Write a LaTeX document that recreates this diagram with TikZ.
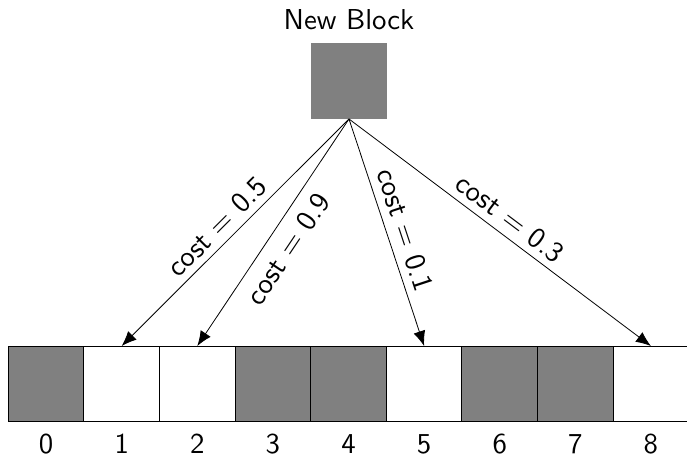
\documentclass[tikz,border=0pt]{standalone}
\usetikzlibrary{arrows.meta}
\begin{document}
\begin{tikzpicture}[x=1pt,y=-1pt,
  cell/.style={draw=black, line width=1pt, minimum size=75.6pt, inner sep=0pt, outer sep=0pt, anchor=north west},
  txt/.style={font=\sffamily\fontsize{10}{12}\selectfont, inner sep=0pt, scale=2.88},
  arr/.style={-{Latex[length=15pt,width=12pt]}, line width=0.8pt}]
\useasboundingbox (0,0) rectangle (687,454);
\foreach \i/\f in {0/gray,1/white,2/white,3/gray,4/gray,5/white,6/gray,7/gray,8/white}{
  \node[cell, fill=\f] (c\i) at ({8.3+75.6*\i},346) {};
  \node[txt, anchor=base] (l\i) at ({8.3+75.6*(\i+0.5)},453.5) {\i};
}
\node[fill=gray, minimum size=76pt, inner sep=0pt, outer sep=0pt] (nb) at (349,81) {};
\node[txt, anchor=base] (title) at (349,30) {New Block};
\draw[arr] (nb.south) -- (c1.north);
\draw[arr] (nb.south) -- (c2.north);
\draw[arr] (nb.south) -- (c5.north);
\draw[arr] (nb.south) -- (c8.north);
\node[txt, rotate=45] (t05) at (217,227) {cost = 0.5};
\node[txt, rotate=56.2] (t09) at (288,249) {cost = 0.9};
\node[txt, rotate=-71.7] (t01) at (405,230) {cost = 0.1};
\node[txt, rotate=-36.9] (t03) at (510,218) {cost = 0.3};
\end{tikzpicture}
\end{document}
